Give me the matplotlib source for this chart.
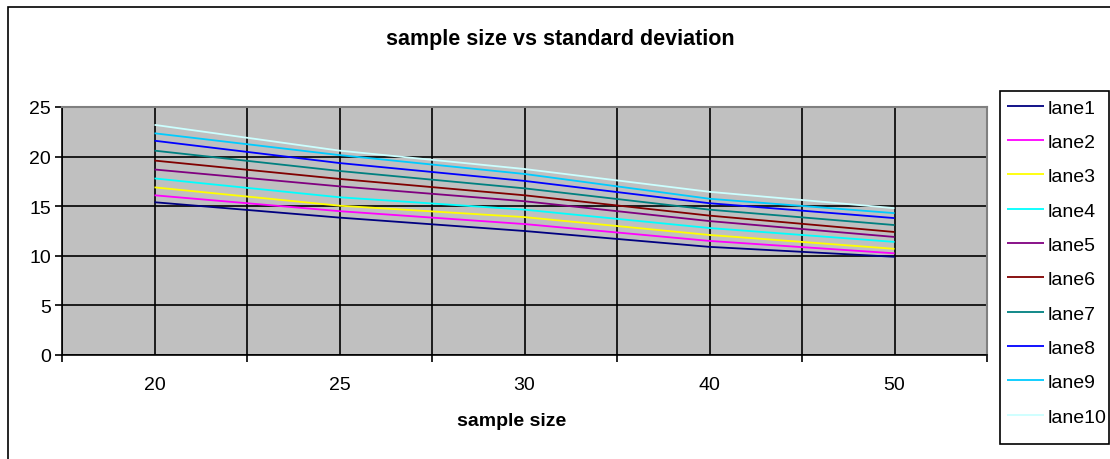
import matplotlib
matplotlib.use("Agg")
import matplotlib.pyplot as plt
from matplotlib.patches import Rectangle
import numpy as np

plt.rcParams['font.family'] = ['Liberation Sans', 'DejaVu Sans']

categories = ["20", "25", "30", "40", "50"]
lane_names = ["lane1", "lane2", "lane3", "lane4", "lane5",
              "lane6", "lane7", "lane8", "lane9", "lane10"]
lane1 = [15.4, 13.85, 12.5, 10.9, 9.9]
lane2 = [16.1, 14.5, 13.2, 11.5, 10.25]
lane3 = [16.9, 15.05, 13.9, 12.1, 10.7]
lane4 = [17.8, 15.9, 14.65, 12.8, 11.4]
lane5 = [18.7, 17.0, 15.5, 13.5, 11.9]
lane6 = [19.6, 17.75, 16.1, 14.05, 12.4]
lane7 = [20.6, 18.55, 16.8, 14.65, 13.1]
lane8 = [21.6, 19.35, 17.55, 15.3, 13.8]
lane9 = [22.35, 20.15, 18.25, 15.75, 14.3]
lane10 = [23.2, 20.6, 18.75, 16.45, 14.8]
series = [lane1, lane2, lane3, lane4, lane5, lane6, lane7, lane8, lane9, lane10]
colors = ["#000080", "#FF00FF", "#FFFF00", "#00FFFF", "#800080",
          "#800000", "#008080", "#0000FF", "#00CCFF", "#CCFFFF"]
y_ticks = [0, 5, 10, 15, 20, 25]

W, H = 1110, 460
fig = plt.figure(figsize=(W / 100, H / 100), dpi=100)

# chart area border
fig.patches.append(Rectangle((8 / W, -0.2), 1.5, (H - 8) / H + 0.2,
                             transform=fig.transFigure, fill=False,
                             edgecolor="black", linewidth=1.2))

ax = fig.add_axes([62 / W, (H - 356) / H, (987 - 62) / W, (356 - 108) / H])
ax.set_facecolor("#C0C0C0")

x = np.arange(len(categories))
for vals, name, c in zip(series, lane_names, colors):
    ax.plot(x, vals, color=c, linewidth=1.3, label=name, solid_capstyle="butt")

ax.set_xlim(-0.5, len(categories) - 0.5)
ax.set_ylim(0, 25)
ax.set_yticks(y_ticks)
ax.set_xticks(x)
ax.set_xticklabels(categories)
ax.set_xticks(np.arange(-0.5, len(categories), 1.0), minor=True)

ax.tick_params(axis="x", which="major", length=0, pad=15, labelsize=14)
ax.tick_params(axis="x", which="minor", length=5, width=1.2, direction="out", color="black")
ax.tick_params(axis="y", which="major", length=5, width=1.2, direction="out",
               pad=3, labelsize=14)

ax.grid(True, axis="x", which="both", color="black", linewidth=1.2)
ax.grid(True, axis="y", which="major", color="black", linewidth=1.2)
ax.set_axisbelow(True)

for side in ["top", "right"]:
    ax.spines[side].set_color("#808080")
    ax.spines[side].set_linewidth(1.5)
for side in ["left", "bottom"]:
    ax.spines[side].set_color("black")
    ax.spines[side].set_linewidth(1.2)

fig.text(512 / W, 1 - 422 / H, "sample size", ha="center", va="center",
         fontsize=14, fontweight="bold")
fig.text(560 / W, 1 - 40 / H, "sample size vs standard deviation",
         ha="center", va="center", fontsize=15.5, fontweight="bold")

# legend frame (taller than its entries, as in the reference)
fig.patches.append(Rectangle((1000 / W, 1 - 445 / H), 109 / W, (445 - 92) / H,
                             transform=fig.transFigure, fill=True,
                             facecolor="white", edgecolor="black",
                             linewidth=1.2, zorder=5))
leg = fig.legend(loc="upper left", bbox_to_anchor=(1005 / W, 1 - 98 / H),
                 borderaxespad=0, fontsize=14, frameon=False,
                 handlelength=1.9, handletextpad=0.2,
                 labelspacing=0.86, borderpad=0.1)
leg.set_zorder(6)

fig.savefig("out.png", dpi=100)
